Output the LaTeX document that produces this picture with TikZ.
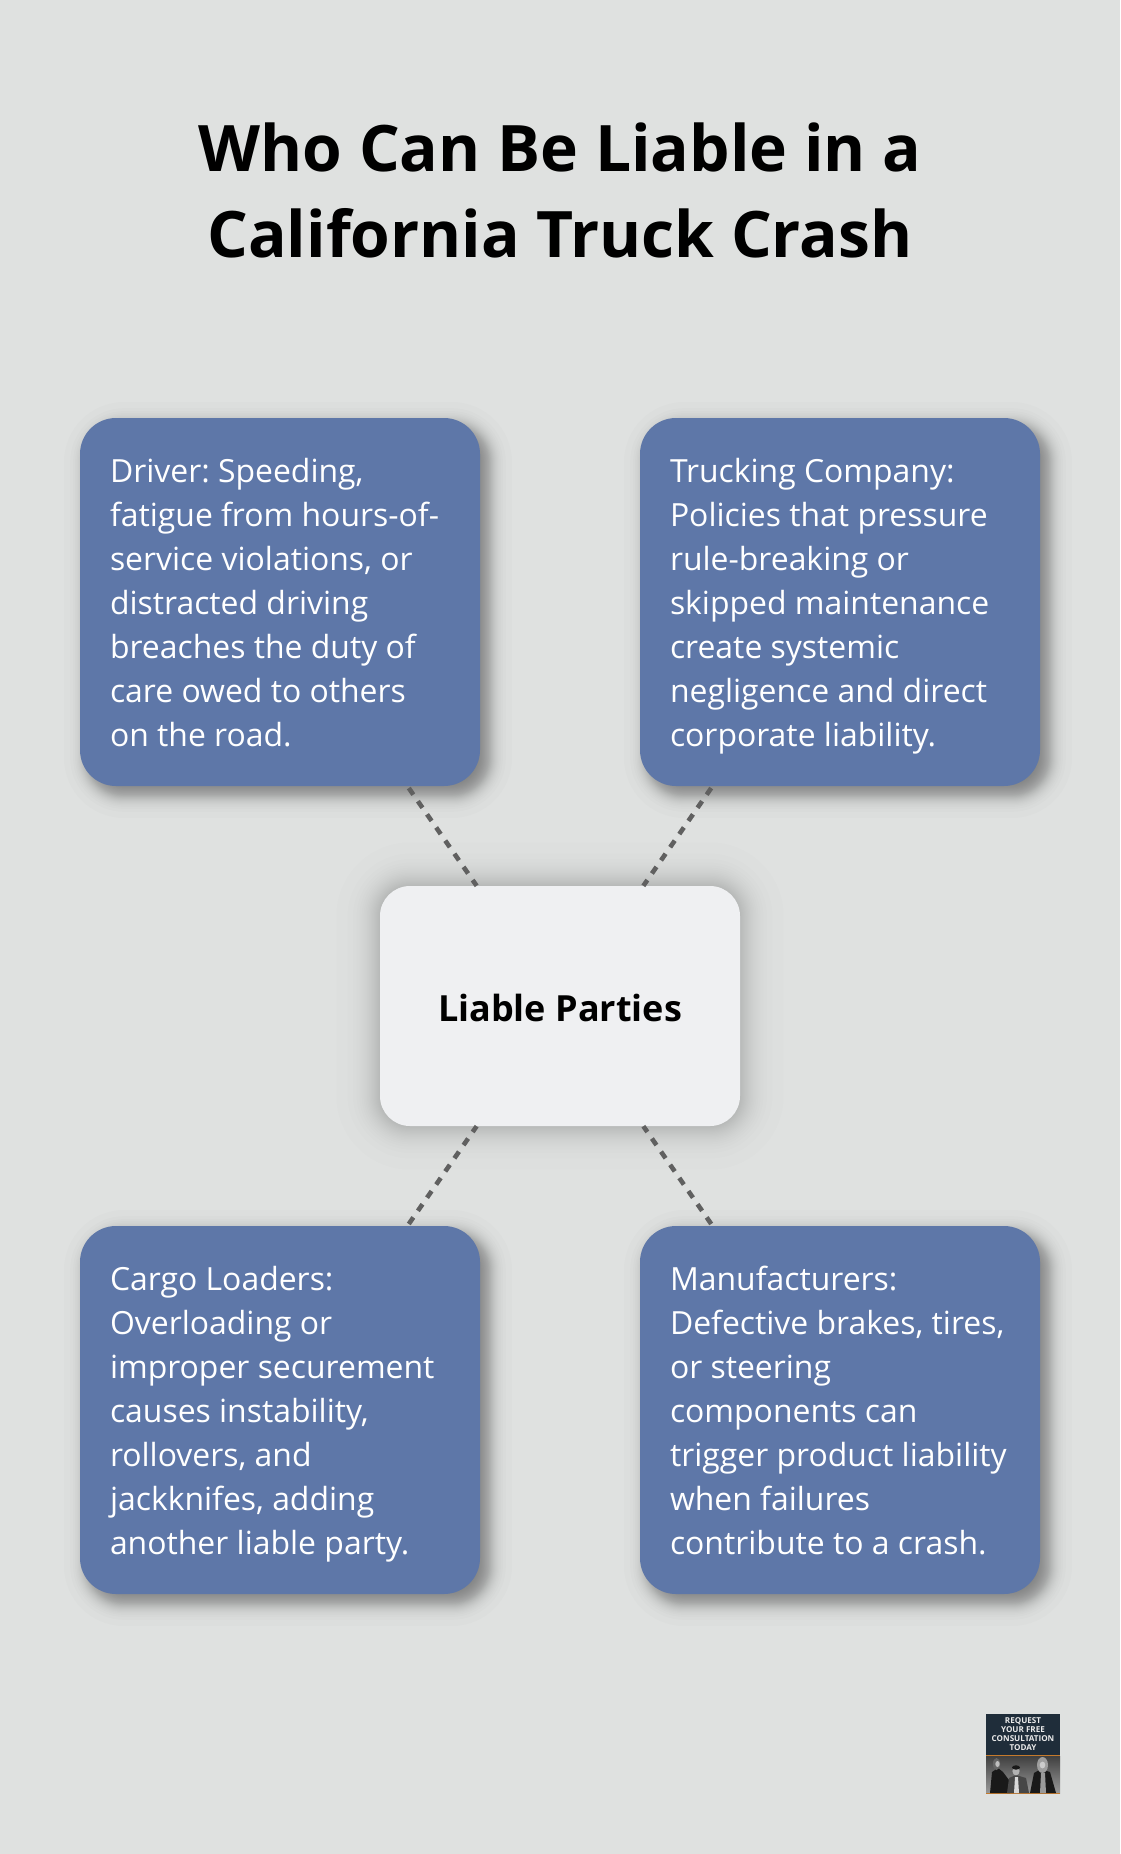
\documentclass[tikz,border=0pt]{standalone}
\usepackage{fontspec}
\setmainfont{Open Sans}
\frenchspacing
\usetikzlibrary{calc}
\definecolor{bgc}{HTML}{DFE1E0}
\definecolor{bluec}{HTML}{5E77A8}
\definecolor{centerc}{HTML}{EFF0F2}
\definecolor{dashc}{HTML}{606060}
\definecolor{navyc}{HTML}{1F2D3A}
\definecolor{orangec}{HTML}{C47A2C}
\tikzset{
  x=1pt,y=-1pt,
  bluebox/.style={rectangle,rounded corners=36pt,fill=bluec,text=white,minimum width=400pt,minimum height=368pt,inner sep=0pt,font=\fontsize{31.92}{44}\selectfont},
  centerbox/.style={rectangle,rounded corners=30pt,fill=centerc,text=black,minimum width=360pt,minimum height=240pt,inner sep=0pt,align=center,font=\fontsize{36}{44}\selectfont\bfseries},
  conn/.style={draw=dashc,line width=4.6pt,dash pattern=on 8pt off 8pt,dash phase=1pt},
  titlenode/.style={align=center,inner sep=0pt,font=\fontsize{64.1}{86}\selectfont\bfseries,text=black},
  logotext/.style={align=center,inner sep=0pt,text=white!92!black,font=\fontsize{8.1}{9}\selectfont\bfseries},
  persondark/.style={fill=black!90},
}
\newcommand{\bodytext}[1]{\makebox[340pt][l]{\raisebox{-4pt}[\height][\depth]{\begin{tabular}{@{}l@{}}#1\end{tabular}}}}
% cx cy halfw halfh radius dx dy sigma opacity-per-layer
\newcommand{\softshadow}[9]{%
  \foreach \k in {0,...,39}{%
    \pgfmathsetmacro{\pp}{(\k+0.5)/40}%
    \pgfmathsetmacro{\gr}{#8*ln((1-\pp)/\pp)}%
    \pgfmathsetmacro{\rr}{max(2,#5+\gr)}%
    \fill[black,opacity=#9,rounded corners=\rr pt]
      (#1+#6-#3-\gr,#2+#7-#4-\gr) rectangle (#1+#6+#3+\gr,#2+#7+#4+\gr);
  }%
}
\begin{document}
\begin{tikzpicture}
\useasboundingbox (0,0) rectangle (1120,1854);
\fill[bgc] (0,0) rectangle (1120,1854);
\node[titlenode] (title) at (560,190) {Who Can Be Liable in a\\California Truck Crash};
% shadows
\softshadow{280}{602}{200}{184}{36}{8}{8}{5.5}{0.0135}
\softshadow{840}{602}{200}{184}{36}{8}{8}{5.5}{0.0135}
\softshadow{280}{1410}{200}{184}{36}{8}{8}{5.5}{0.0135}
\softshadow{840}{1410}{200}{184}{36}{8}{8}{5.5}{0.0135}
\node[bluebox] (driver) at (280,602) {\bodytext{Driver: Speeding,\\fatigue from hours-of-\\service violations, or\\distracted driving\\breaches the duty of\\care owed to others\\on the road.}};
\node[bluebox] (company) at (840,602) {\bodytext{Trucking Company:\\Policies that pressure\\rule-breaking or\\skipped maintenance\\create systemic\\negligence and direct\\corporate liability.}};
\node[bluebox] (loaders) at (280,1410) {\bodytext{Cargo Loaders:\\Overloading or\\improper securement\\causes instability,\\rollovers, and\\jackknifes, adding\\another liable party.}};
\node[bluebox] (makers) at (840,1410) {\bodytext{Manufacturers:\\Defective brakes, tires,\\or steering\\components can\\trigger product liability\\when failures\\contribute to a crash.}};
\softshadow{560}{1006}{180}{120}{30}{0}{0}{10}{0.0085}
\node[centerbox] (hub) at (560,1006) {\raisebox{-1.5pt}[\height][\depth]{Liable Parties}};
\draw[conn] (hub) -- (driver);
\draw[conn] (hub) -- (company);
\draw[conn] (hub) -- (loaders);
\draw[conn] (hub) -- (makers);
% logo
\fill[navyc] (986,1714) rectangle (1060,1755);
\fill[orangec] (986,1755) rectangle (1060,1756);
\shade[top color=black!75,bottom color=black!40] (986,1756) rectangle (1060,1793);
\fill[orangec] (986,1793) rectangle (1060,1794);
\node[logotext] (logo) at (1023,1734.5) {REQUEST\\YOUR FREE\\CONSULTATION\\TODAY};
% photo: three people
\fill[persondark] (990,1793) -- (992,1772) -- (998,1768) -- (1003,1772) -- (1009,1780) -- (1010,1793) -- cycle;
\fill[black!60] (996.5,1764) ellipse (3.6 and 6);
\fill[black!25] (997.5,1764) ellipse (2.2 and 3);
\fill[black!72] (1007,1793) -- (1009,1778) -- (1016,1775) -- (1026,1778) -- (1029,1793) -- cycle;
\fill[black!15] (1014,1793) -- (1015,1777) -- (1018,1777) -- (1019,1793) -- cycle;
\fill[black!30] (1016,1771) ellipse (3.6 and 4.4);
\fill[black!90] (1016,1767.5) ellipse (4 and 2.2);
\fill[persondark] (1030,1793) -- (1034,1773) -- (1041,1769) -- (1050,1772) -- (1056,1793) -- cycle;
\fill[black!40] (1040,1793) -- (1041,1773) -- (1045,1773) -- (1046,1793) -- cycle;
\fill[black!38] (1042.5,1765) ellipse (5.5 and 8);
\fill[black!20] (1042.5,1765) ellipse (2.8 and 3.4);
\end{tikzpicture}
\end{document}
